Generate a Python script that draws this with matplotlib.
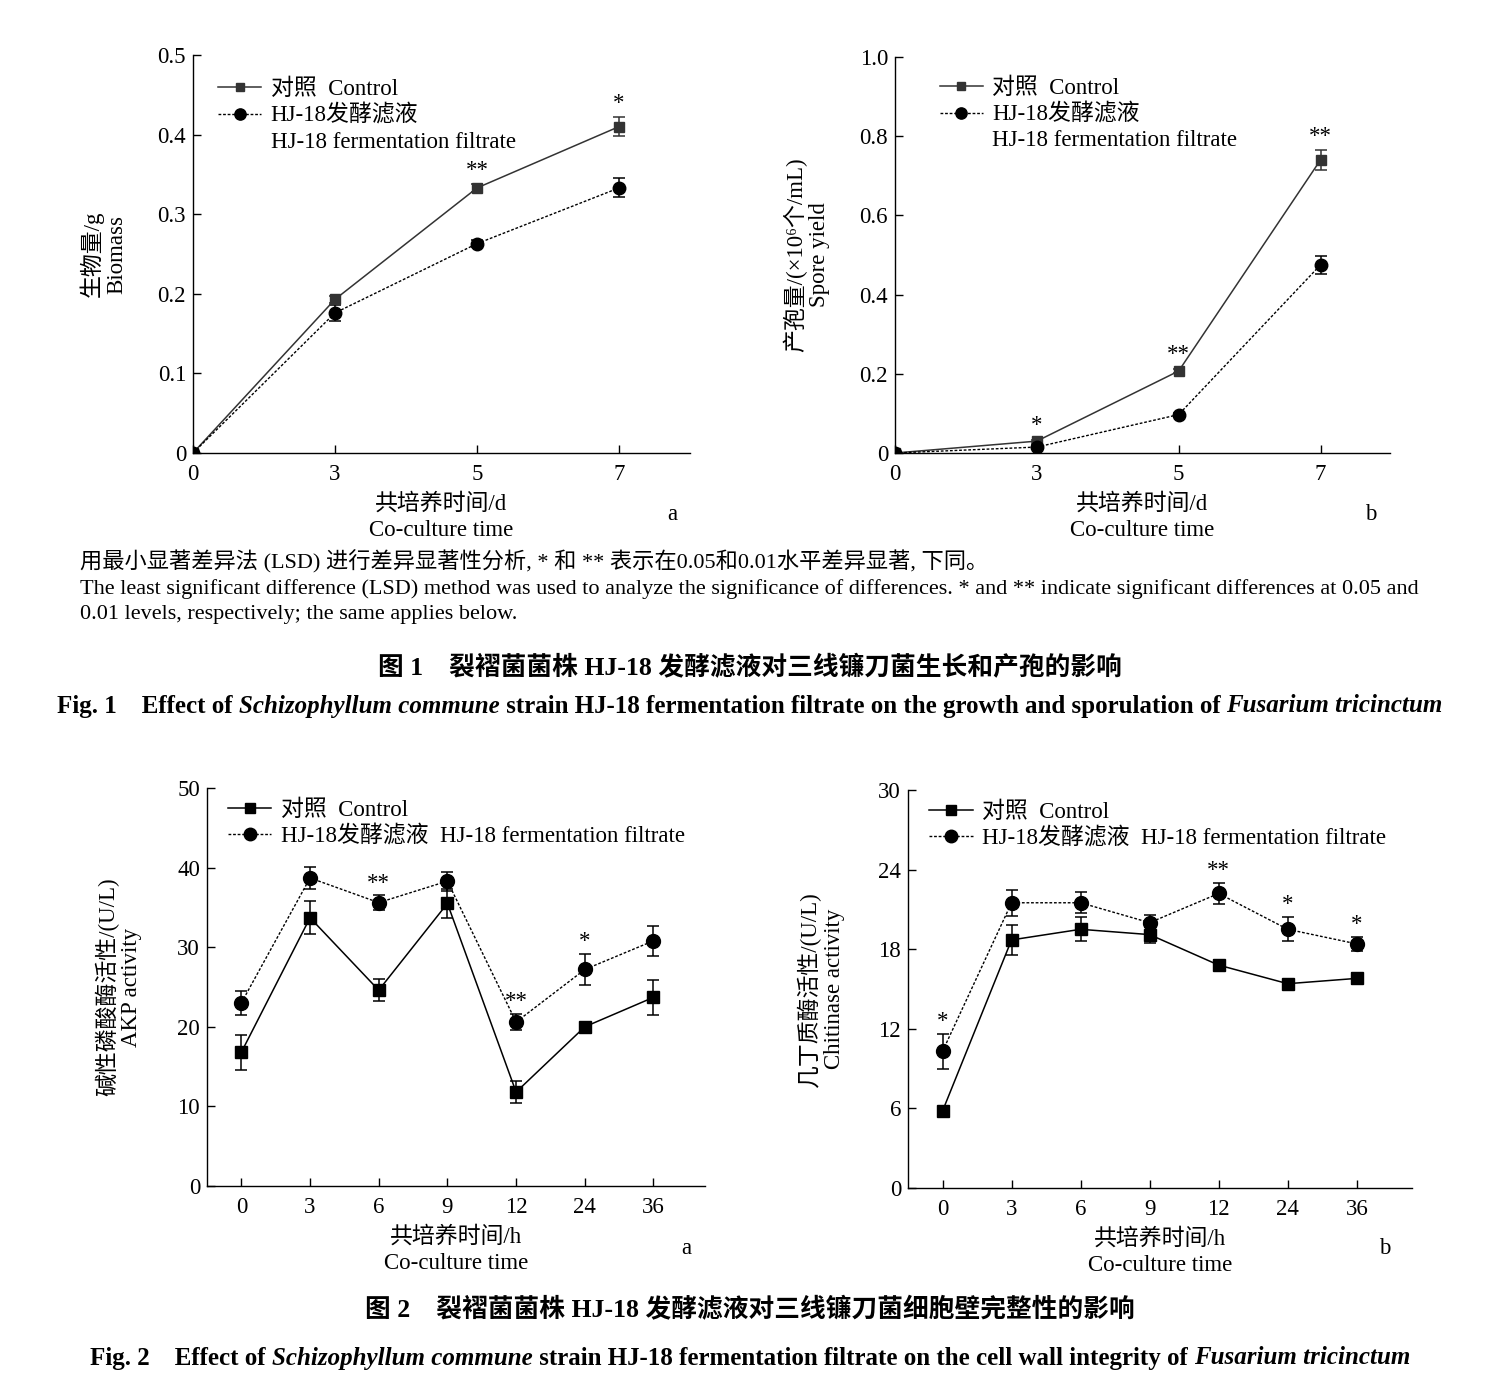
import numpy as np
import matplotlib
matplotlib.use('Agg')
import matplotlib.pyplot as plt
from matplotlib.lines import Line2D

plt.rcParams['font.family'] = ['Liberation Serif', 'Noto Sans CJK SC', 'DejaVu Serif']
plt.rcParams['axes.unicode_minus'] = False

# ---- data, Fig. 1 ----
days = ['0', '3', '5', '7']
biomass_ctrl = [0.0, 0.193, 0.333, 0.410]
biomass_ctrl_err = [0.0, 0.004, 0.005, 0.012]
biomass_trt = [0.0, 0.176, 0.263, 0.333]
biomass_trt_err = [0.0, 0.010, 0.004, 0.012]
biomass_sig = ['', '', '**', '*']
biomass_yticks = [0, 0.1, 0.2, 0.3, 0.4, 0.5]
biomass_yticklabels = ['0', '0.1', '0.2', '0.3', '0.4', '0.5']

spore_ctrl = [0.0, 0.030, 0.207, 0.740]
spore_ctrl_err = [0.0, 0.004, 0.006, 0.025]
spore_trt = [0.0, 0.015, 0.097, 0.475]
spore_trt_err = [0.0, 0.004, 0.005, 0.022]
spore_sig = ['', '*', '**', '**']
spore_yticks = [0, 0.2, 0.4, 0.6, 0.8, 1.0]
spore_yticklabels = ['0', '0.2', '0.4', '0.6', '0.8', '1.0']

# ---- data, Fig. 2 ----
hours = ['0', '3', '6', '9', '12', '24', '36']
akp_ctrl = [16.8, 33.7, 24.6, 35.5, 11.8, 20.0, 23.7]
akp_ctrl_err = [2.2, 2.1, 1.4, 1.8, 1.4, 0.3, 2.2]
akp_trt = [23.0, 38.7, 35.6, 38.3, 20.6, 27.2, 30.8]
akp_trt_err = [1.5, 1.4, 0.9, 1.2, 1.0, 2.0, 1.9]
akp_sig = ['', '', '**', '', '**', '*', '']
akp_yticks = [0, 10, 20, 30, 40, 50]

chi_ctrl = [5.8, 18.7, 19.5, 19.1, 16.8, 15.4, 15.8]
chi_ctrl_err = [0.2, 1.1, 0.9, 0.6, 0.4, 0.3, 0.4]
chi_trt = [10.3, 21.5, 21.5, 20.0, 22.2, 19.5, 18.4]
chi_trt_err = [1.3, 1.0, 0.8, 0.6, 0.8, 0.9, 0.5]
chi_sig = ['*', '', '', '', '**', '*', '*']
chi_yticks = [0, 6, 12, 18, 24, 30]

lab_ctrl = '对照  Control'
lab_trt_cn = 'HJ-18发酵滤液'
lab_trt_en = 'HJ-18 fermentation filtrate'

FS = 16.5
W, H = 1500, 1396
fig = plt.figure(figsize=(W / 100, H / 100), dpi=100)


def px_axes(l, r, t, b):
    return fig.add_axes([l / W, 1 - b / H, (r - l) / W, (b - t) / H])


def panel(ax, cats, ctrl, ctrl_err, trt, trt_err, sig, yticks, yticklabels,
          ylim, xlim, ylabel, xlabel, two_line, star_pad, leg_anchor, ctrl_color,
          ms_sq, ms_ci, ylpad):
    x = np.arange(len(cats))
    ax.errorbar(x, ctrl, yerr=ctrl_err, color=ctrl_color, lw=1.1, marker='s', ms=ms_sq,
                capsize=4, elinewidth=1.1, capthick=1.1, zorder=3)
    ax.errorbar(x, trt, yerr=trt_err, color='black', lw=1.0, ls=(0, (2, 1.3)), marker='o', ms=ms_ci,
                capsize=4, elinewidth=1.1, capthick=1.1, zorder=3)
    for i, s in enumerate(sig):
        if s:
            top = max(ctrl[i] + ctrl_err[i], trt[i] + trt_err[i])
            ax.text(x[i], top + star_pad, s, ha='center', va='bottom', fontsize=FS)
    ax.set_xlim(*xlim)
    ax.set_ylim(*ylim)
    ax.set_xticks(x)
    ax.set_xticklabels(cats)
    ax.set_yticks(yticks)
    ax.set_yticklabels(yticklabels)
    for sp in ['top', 'right']:
        ax.spines[sp].set_visible(False)
    for sp in ['left', 'bottom']:
        ax.spines[sp].set_linewidth(1.0)
    ax.tick_params(direction='in', length=6, width=1.0, labelsize=FS)
    ax.tick_params(axis='x', pad=8)
    ax.tick_params(axis='y', pad=5)
    ax.set_ylabel(ylabel, fontsize=FS, linespacing=1.15, labelpad=ylpad)
    ax.set_xlabel(xlabel, fontsize=FS, linespacing=1.3, labelpad=6)

    h_ctrl = Line2D([], [], color=ctrl_color, lw=1.1, marker='s', ms=ms_sq * 0.85)
    h_trt = Line2D([], [], color='black', lw=1.0, ls=(0, (2, 1.3)), marker='o', ms=ms_ci * 0.9)
    if two_line:
        h_blank = Line2D([], [], color='none')
        handles = [h_ctrl, h_trt, h_blank]
        labels = [lab_ctrl, lab_trt_cn, lab_trt_en]
    else:
        handles = [h_ctrl, h_trt]
        labels = [lab_ctrl, lab_trt_cn + '  ' + lab_trt_en]
    ax.legend(handles, labels, loc='upper left', bbox_to_anchor=leg_anchor, frameon=False,
              fontsize=FS, handlelength=1.9, handletextpad=0.4, labelspacing=0.2,
              borderaxespad=0, borderpad=0)


# Fig. 1a
ax1 = px_axes(193, 690, 55, 453)
panel(ax1, days, biomass_ctrl, biomass_ctrl_err, biomass_trt, biomass_trt_err, biomass_sig,
      biomass_yticks, biomass_yticklabels, (0, 0.5), (0, 3.5),
      '生物量/g\nBiomass', '共培养时间/d\nCo-culture time', True, 0.004,
      (0.05, 0.94), '#333333', 7, 9, 22)
fig.text(672 / W, 1 - 514 / H, 'a', fontsize=FS, ha='center', va='center')

# Fig. 1b
ax2 = px_axes(895, 1390, 57, 453)
panel(ax2, days, spore_ctrl, spore_ctrl_err, spore_trt, spore_trt_err, spore_sig,
      spore_yticks, spore_yticklabels, (0, 1.0), (0, 3.49),
      '产孢量/(×10⁶个/mL)\nSpore yield', '共培养时间/d\nCo-culture time', True, 0.008,
      (0.09, 0.948), '#333333', 7, 9, 21)
fig.text(1371 / W, 1 - 514 / H, 'b', fontsize=FS, ha='center', va='center')

# Fig. 2a
ax3 = px_axes(207, 705, 788, 1186)
panel(ax3, hours, akp_ctrl, akp_ctrl_err, akp_trt, akp_trt_err, akp_sig,
      akp_yticks, [str(v) for v in akp_yticks], (0, 50), (-0.5, 6.75),
      '碱性磷酸酶活性/(U/L)\nAKP activity', '共培养时间/h\nCo-culture time', False, 0.2,
      (0.042, 0.972), 'black', 8.5, 10, 25)
fig.text(686 / W, 1 - 1249 / H, 'a', fontsize=FS, ha='center', va='center')

# Fig. 2b
ax4 = px_axes(908, 1412, 790, 1188)
panel(ax4, hours, chi_ctrl, chi_ctrl_err, chi_trt, chi_trt_err, chi_sig,
      chi_yticks, [str(v) for v in chi_yticks], (0, 30), (-0.5, 6.8),
      '几丁质酶活性/(U/L)\nChitinase activity', '共培养时间/h\nCo-culture time', False, 0.15,
      (0.042, 0.972), 'black', 8.5, 10, 24)
fig.text(1385 / W, 1 - 1249 / H, 'b', fontsize=FS, ha='center', va='center')

# notes
note_cn = '用最小显著差异法 (LSD) 进行差异显著性分析, * 和 ** 表示在0.05和0.01水平差异显著, 下同。'
note_en1 = ('The least significant difference (LSD) method was used to analyze the significance '
            'of differences. * and ** indicate significant differences at 0.05 and')
note_en2 = '0.01 levels, respectively; the same applies below.'
for s, yy in [(note_cn, 562), (note_en1, 589), (note_en2, 615)]:
    fig.text(80 / W, 1 - yy / H, s, fontsize=16, ha='left', va='center')

cap1_cn = '图 1    裂褶菌菌株 HJ-18 发酵滤液对三线镰刀菌生长和产孢的影响'
cap2_cn = '图 2    裂褶菌菌株 HJ-18 发酵滤液对三线镰刀菌细胞壁完整性的影响'
fig.text(0.5, 1 - 668 / H, cap1_cn, fontsize=18.5, fontweight='bold', ha='center', va='center')
fig.text(0.5, 1 - 1310 / H, cap2_cn, fontsize=18.5, fontweight='bold', ha='center', va='center')

cap1_en = [('Fig. 1    Effect of ', 'normal'), ('Schizophyllum commune', 'italic'),
           (' strain HJ-18 fermentation filtrate on the growth and sporulation of ', 'normal'),
           ('Fusarium tricinctum', 'italic')]
cap2_en = [('Fig. 2    Effect of ', 'normal'), ('Schizophyllum commune', 'italic'),
           (' strain HJ-18 fermentation filtrate on the cell wall integrity of ', 'normal'),
           ('Fusarium tricinctum', 'italic')]

renderer = fig.canvas.get_renderer()


def rich_line(parts, yy, size):
    texts = []
    for s, st in parts:
        t = fig.text(0, 1 - yy / H, s, fontsize=size, fontweight='bold', fontstyle=st,
                     ha='left', va='center')
        texts.append(t)
    widths = [t.get_window_extent(renderer).width for t in texts]
    x0 = (W - sum(widths)) / 2
    for t, w in zip(texts, widths):
        t.set_x(x0 / W)
        x0 += w


rich_line(cap1_en, 706, 18)
rich_line(cap2_en, 1358, 18)

fig.savefig('out.png', dpi=100)
